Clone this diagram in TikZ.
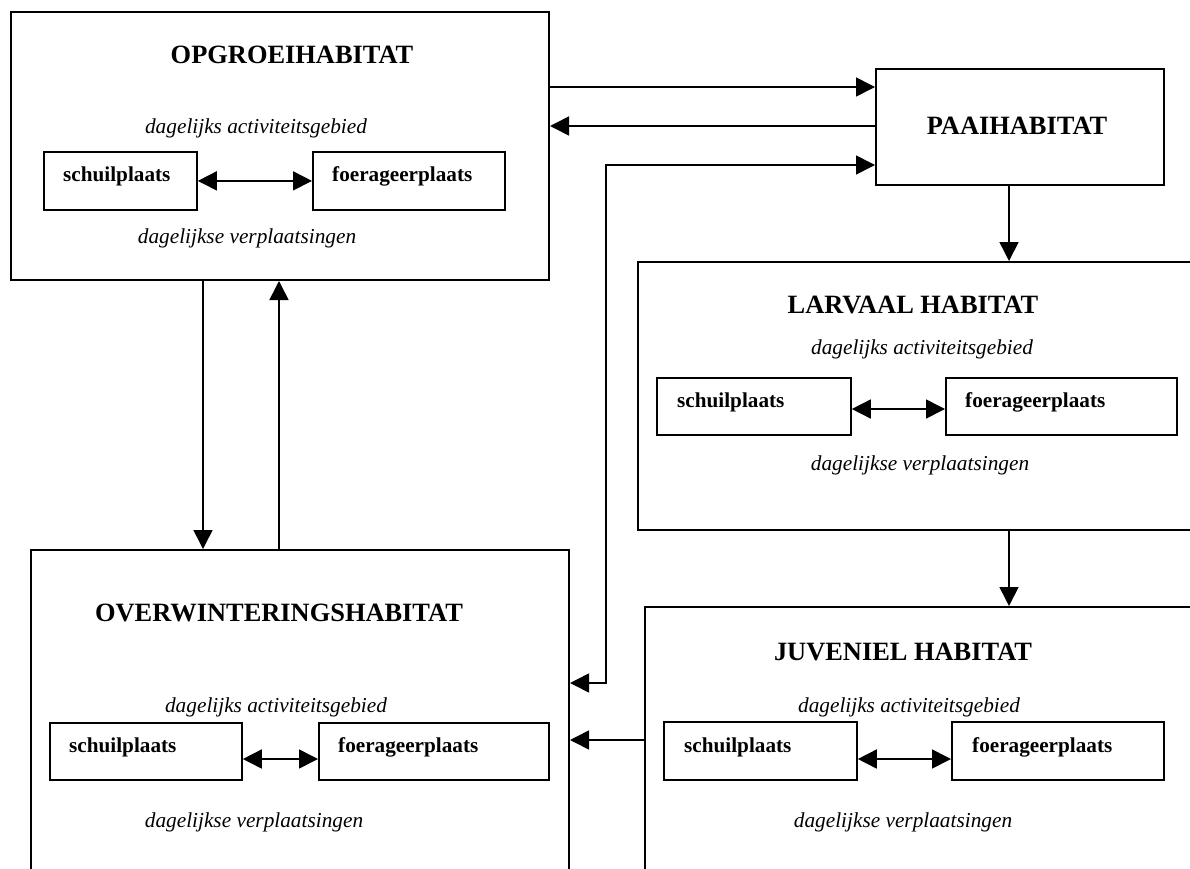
\documentclass[tikz,border=0pt]{standalone}
\usepackage{fontspec}
\setmainfont{Liberation Serif}
\usetikzlibrary{arrows.meta}
\tikzset{
  bigbox/.style={draw, line width=2pt, inner sep=0pt, anchor=north west},
  smallbox/.style={draw, line width=1.8pt, inner sep=0pt, anchor=north west},
  titletext/.style={anchor=base, inner sep=0pt, font=\fontsize{26.4}{30}\selectfont\bfseries},
  itext/.style={anchor=base, inner sep=0pt, font=\fontsize{21.3}{25}\selectfont\itshape},
  btext/.style={anchor=base west, inner sep=0pt, font=\fontsize{21.2}{25}\selectfont\bfseries},
  conn/.style={line width=1.6pt, -{Triangle[length=19pt,width=19pt]}},
  dconn/.style={line width=1.6pt, {Triangle[length=19pt,width=19pt]}-{Triangle[length=19pt,width=19pt]}}
}
\begin{document}
\begin{tikzpicture}[x=1pt, y=-1pt]
\useasboundingbox (0,0) rectangle (1190,869);
\clip (0,0) rectangle (1190,869);

% OPGROEIHABITAT
\node[bigbox, minimum width=538pt, minimum height=268pt] (opg) at (10,11) {};
\node[titletext] (opgT) at (292,64) {OPGROEIHABITAT};
\node[itext] (opgA) at (256,134) {dagelijks activiteitsgebied};
\node[smallbox, minimum width=153pt, minimum height=58pt] (opgS) at (43,151) {};
\node[btext] (opgSt) at (63,182) {schuilplaats};
\node[smallbox, minimum width=192pt, minimum height=58pt] (opgF) at (312,151) {};
\node[btext] (opgFt) at (332,182) {foerageerplaats};
\node[itext] (opgV) at (247,243) {dagelijkse verplaatsingen};
\draw[dconn] (opgS.east) -- (opgF.west);

% PAAIHABITAT
\node[bigbox, minimum width=288pt, minimum height=116pt] (paai) at (875,68) {};
\node[titletext] (paaiT) at (1017,135) {PAAIHABITAT};

% LARVAAL HABITAT
\node[bigbox, minimum width=623pt, minimum height=268pt] (larv) at (637,261) {};
\node[titletext] (larvT) at (913,313) {LARVAAL HABITAT};
\node[itext] (larvA) at (922,354) {dagelijks activiteitsgebied};
\node[smallbox, minimum width=194pt, minimum height=57pt] (larvS) at (656,377) {};
\node[btext] (larvSt) at (677,407) {schuilplaats};
\node[smallbox, minimum width=231pt, minimum height=57pt] (larvF) at (945,377) {};
\node[btext] (larvFt) at (965,407) {foerageerplaats};
\node[itext] (larvV) at (920,470) {dagelijkse verplaatsingen};
\draw[dconn] (larvS.east |- 0,409) -- (larvF.west |- 0,409);

% JUVENIEL HABITAT
\node[bigbox, minimum width=616pt, minimum height=344pt] (juv) at (644,606) {};
\node[titletext] (juvT) at (903,660) {JUVENIEL HABITAT};
\node[itext] (juvA) at (909,712) {dagelijks activiteitsgebied};
\node[smallbox, minimum width=193pt, minimum height=58pt] (juvS) at (663,721) {};
\node[btext] (juvSt) at (684,752) {schuilplaats};
\node[smallbox, minimum width=212pt, minimum height=58pt] (juvF) at (951,721) {};
\node[btext] (juvFt) at (972,752) {foerageerplaats};
\node[itext] (juvV) at (903,827) {dagelijkse verplaatsingen};
\draw[dconn] (juvS.east |- 0,759) -- (juvF.west |- 0,759);

% OVERWINTERINGSHABITAT
\node[bigbox, minimum width=538pt, minimum height=401pt] (ovw) at (30,549) {};
\node[titletext] (ovwT) at (279,621) {OVERWINTERINGSHABITAT};
\node[itext] (ovwA) at (276,712) {dagelijks activiteitsgebied};
\node[smallbox, minimum width=192pt, minimum height=57pt] (ovwS) at (49,722) {};
\node[btext] (ovwSt) at (69,752) {schuilplaats};
\node[smallbox, minimum width=230pt, minimum height=57pt] (ovwF) at (318,722) {};
\node[btext] (ovwFt) at (338,752) {foerageerplaats};
\node[itext] (ovwV) at (254,827) {dagelijkse verplaatsingen};
\draw[dconn] (ovwS.east |- 0,759) -- (ovwF.west |- 0,759);

% connectors
\draw[conn] (opg.east |- 0,87) -- (paai.west |- 0,87);
\draw[conn] (paai.west |- 0,126) -- (opg.east |- 0,126);
\coordinate (k1) at (606,165);
\coordinate (k2) at (606,683);
\draw[dconn] (paai.west |- k1) -- (k1) -- (k2) -- (ovw.east |- k2);
\draw[conn] (paai.south -| 1009,0) -- (larv.north -| 1009,0);
\draw[conn] (larv.south -| 1009,0) -- (juv.north -| 1009,0);
\draw[conn] (juv.west |- 0,740) -- (ovw.east |- 0,740);
\draw[conn] (opg.south -| 203,0) -- (ovw.north -| 203,0);
\draw[conn] (ovw.north -| 279,0) -- (opg.south -| 279,0);
\end{tikzpicture}
\end{document}
